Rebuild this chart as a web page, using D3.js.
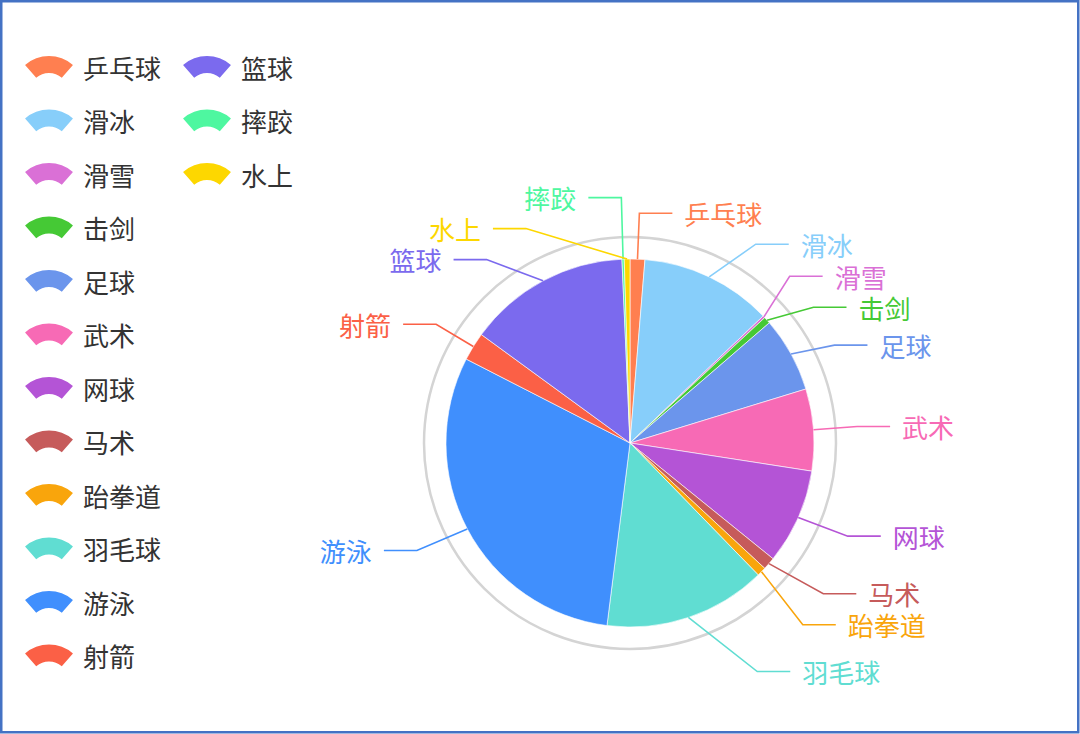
<!DOCTYPE html>
<html>
<head>
<meta charset="utf-8">
<script src="https://cdn.jsdelivr.net/npm/d3@7"></script>
<style>
  html, body { margin: 0; padding: 0; background: #fff; }
  svg { display: block; font-family: 'Noto Sans CJK SC', 'Noto Sans', sans-serif; }
</style>
</head>
<body>
<div id="chart"></div>
<script>
const sports = ['乒乓球', '滑冰', '滑雪', '击剑', '足球', '武术', '网球', '马术', '跆拳道', '羽毛球', '游泳', '射箭', '篮球', '摔跤', '水上'];
const counts = [13, 116, 2, 6, 66, 72, 84, 11, 8, 143, 306, 25, 143, 2, 5];
const sliceColors = ['#ff7f50', '#87cefa', '#da70d6', '#45c935', '#6b95ec', '#f76ab5', '#b454d6', '#c65b5b',
  '#f9a50c', '#60ddd2', '#408ffd', '#fb6046', '#7b6aee', '#4ef7a0', '#fdd700'];

const width = 1080;
const height = 734;
const cx = 630;
const cy = 443;
const radius = 184;
const ringRadius = 206;
const lineLen = 46;
const lineLen2 = 33;
const labelGap = 12;
const labelHeight = 31;
const labelRadius = 274;

const svg = d3.select('#chart').append('svg')
  .attr('width', width)
  .attr('height', height);

// frame round the picture
svg.append('rect')
  .attr('x', 1.25)
  .attr('y', 1.25)
  .attr('width', width - 3)
  .attr('height', height - 3)
  .attr('fill', '#fff')
  .attr('stroke', '#4472c4')
  .attr('stroke-width', 2.5);

const pie = d3.pie().sort(null).value(d => d);
const arcs = pie(counts);
const arc = d3.arc().innerRadius(0).outerRadius(radius);

const chart = svg.append('g');

chart.append('circle')
  .attr('cx', cx)
  .attr('cy', cy)
  .attr('r', ringRadius)
  .attr('fill', 'none')
  .attr('stroke', '#d4d4d4')
  .attr('stroke-width', 2.5);

chart.append('g')
  .attr('transform', `translate(${cx},${cy})`)
  .selectAll('path')
  .data(arcs)
  .join('path')
  .attr('d', arc)
  .attr('fill', (d, i) => sliceColors[i])
  .attr('stroke', '#fff')
  .attr('stroke-width', 0.6);

// label layout: radial line, then horizontal, labels pushed apart per side
const labels = arcs.map((d, i) => {
  const mid = (d.startAngle + d.endAngle) / 2;
  const dir = Math.sin(mid) < 0 ? -1 : 1;
  const p1 = [cx + radius * Math.sin(mid), cy - radius * Math.cos(mid)];
  const p2 = [cx + (radius + lineLen) * Math.sin(mid), cy - (radius + lineLen) * Math.cos(mid)];
  return {
    name: sports[i],
    color: sliceColors[i],
    dir,
    p1,
    y: p2[1],
    x: p2[0] + dir * (lineLen2 + labelGap)
  };
});

function adjustSide(list, dir) {
  list.sort((a, b) => Math.round(a.y) - Math.round(b.y));
  list.forEach(l => { l.top = l.y - labelHeight / 2; });

  function shiftUp(end, delta) {
    for (let j = end; j >= 0; j--) {
      list[j].top -= delta;
      if (j > 0 && list[j].top > list[j - 1].top + labelHeight) break;
    }
  }

  function shiftDown(start, end, delta) {
    for (let j = start; j < end; j++) {
      list[j].top += delta;
      if (j > start && j + 1 < end && list[j + 1].top > list[j].top + labelHeight) {
        shiftUp(j, delta / 2);
        return;
      }
    }
    shiftUp(end - 1, delta / 2);
  }

  let lastY = 0;
  for (let i = 0; i < list.length; i++) {
    const delta = list[i].top - lastY;
    if (delta < 0) shiftDown(i, list.length, -delta);
    lastY = list[i].top + labelHeight;
  }

  list.forEach(l => { l.y = l.top + labelHeight / 2; });

  const threshold = radius + lineLen + 5;
  function changeX(items, isDown) {
    let lastDx = isDown ? Infinity : 0;
    items.forEach(l => {
      const dy = Math.abs(l.top - cy);
      let dx = dy < threshold
        ? Math.sqrt(labelRadius * labelRadius - dy * dy)
        : Math.abs(l.x - cx);
      if (isDown && dx >= lastDx) dx = lastDx - 10;
      if (!isDown && dx <= lastDx) dx = lastDx + 10;
      l.x = cx + dx * dir;
      lastDx = dx;
    });
  }

  changeX(list.filter(l => l.y < cy), false);
  changeX(list.filter(l => l.y >= cy), true);
}

adjustSide(labels.filter(l => l.dir > 0), 1);
adjustSide(labels.filter(l => l.dir < 0), -1);

labels.forEach(l => {
  const p3 = [l.x - l.dir * labelGap, l.y];
  const p2 = [p3[0] - l.dir * lineLen2, l.y];
  l.points = [l.p1, p2, p3];
});

const line = d3.line();

chart.append('g')
  .selectAll('path')
  .data(labels)
  .join('path')
  .attr('d', d => line(d.points))
  .attr('fill', 'none')
  .attr('stroke', d => d.color)
  .attr('stroke-width', 1.6);

chart.append('g')
  .selectAll('text')
  .data(labels)
  .join('text')
  .attr('x', d => d.x)
  .attr('y', d => d.y)
  .attr('text-anchor', d => d.dir > 0 ? 'start' : 'end')
  .attr('dominant-baseline', 'central')
  .attr('font-size', 26)
  .attr('fill', d => d.color)
  .text(d => d.name);

// legend, vertical, wraps into a second column
const legendTop = 67;
const legendLeft = 25;
const rowPitch = 53.5;
const colPitch = 158;
const rowsPerCol = Math.floor((height - legendTop) / rowPitch);

const iconArc = d3.arc()
  .innerRadius(19.5)
  .outerRadius(36.5)
  .startAngle(-41 * Math.PI / 180)
  .endAngle(41 * Math.PI / 180);

const legend = svg.append('g')
  .selectAll('g')
  .data(sports)
  .join('g')
  .attr('transform', (d, i) => {
    const col = Math.floor(i / rowsPerCol);
    const row = i % rowsPerCol;
    return `translate(${legendLeft + col * colPitch},${legendTop + row * rowPitch})`;
  });

legend.append('path')
  .attr('d', iconArc())
  .attr('transform', 'translate(24,25.5)')
  .attr('fill', (d, i) => sliceColors[i]);

legend.append('text')
  .attr('x', 58)
  .attr('y', 0)
  .attr('dominant-baseline', 'central')
  .attr('font-size', 26)
  .attr('fill', '#333')
  .text(d => d);
</script>
</body>
</html>
